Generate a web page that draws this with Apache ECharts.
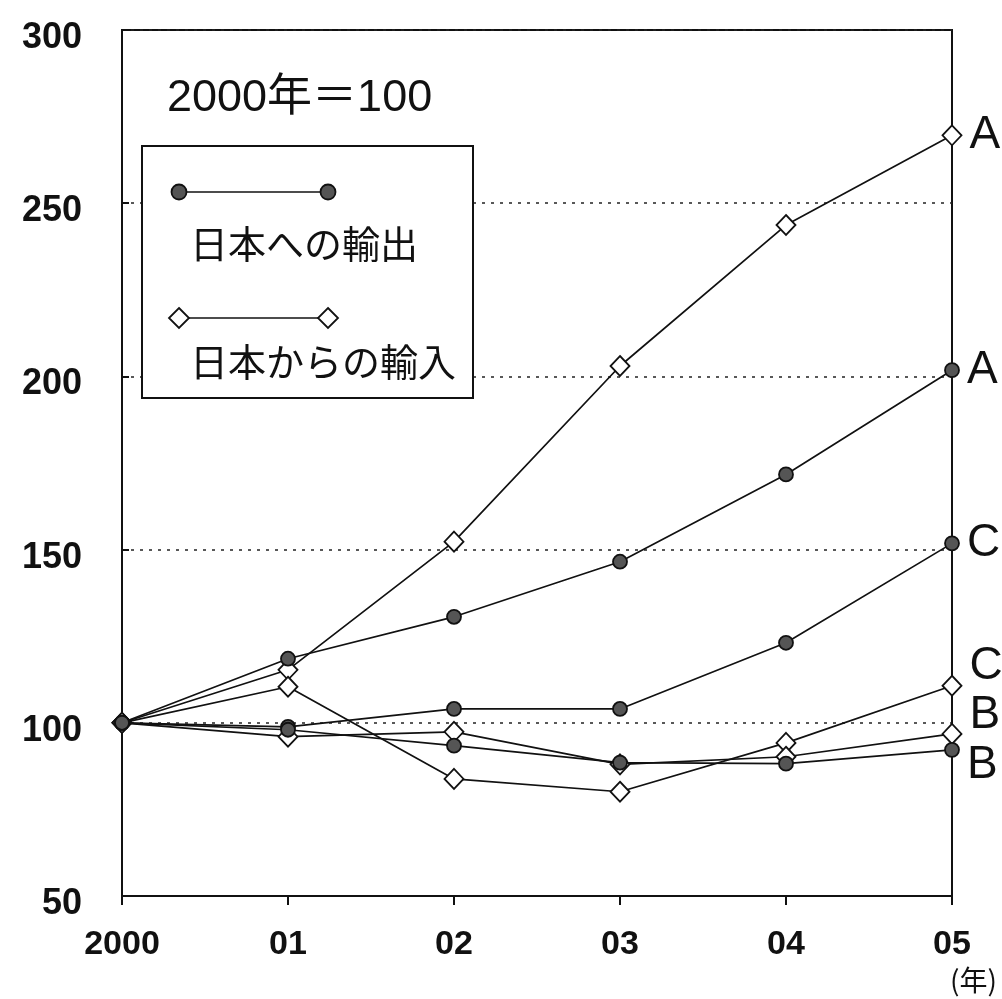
<!DOCTYPE html>
<html>
<head>
<meta charset="utf-8">
<script src="https://cdn.jsdelivr.net/npm/echarts@6/dist/echarts.min.js"></script>
<style>
html,body{margin:0;padding:0;background:#fff;}
#chart{width:1002px;height:999px;}
</style>
</head>
<body>
<div id="chart"></div>
<script>
// ---- data ----
const years = ['2000', '01', '02', '03', '04', '05'];
const yTicks = [50, 100, 150, 200, 250, 300];
const legendTitle = '2000年＝100';
const legendExport = '日本への輸出';
const legendImport = '日本からの輸入';
const yearUnit = '(年)';

const exportA = [100, 118.5, 130.6, 146.5, 171.7, 201.8];
const importA = [100, 115.3, 152.3, 203.0, 243.7, 269.6];
const exportC = [100, 98.8, 104.0, 104.0, 123.1, 151.8];
const importC = [100, 110.4, 83.8, 80.1, 94.2, 110.7];
const exportB = [100, 98.0, 93.4, 88.5, 88.2, 92.2];
const importB = [100, 96.0, 97.4, 88.0, 90.2, 96.8];

const seriesDefs = [
  { name: 'A', kind: 'import', values: importA, labelDy: 0 },
  { name: 'A', kind: 'export', values: exportA, labelDy: 0 },
  { name: 'C', kind: 'export', values: exportC, labelDy: 0 },
  { name: 'C', kind: 'import', values: importC, labelDy: -19 },
  { name: 'B', kind: 'import', values: importB, labelDy: -19 },
  { name: 'B', kind: 'export', values: exportB, labelDy: 15 }
];

const chart = echarts.init(document.getElementById('chart'), null, { renderer: 'canvas' });

function buildSeries(def) {
  const last = def.values.length - 1;
  const isExport = def.kind === 'export';
  return {
    type: 'line',
    name: def.kind,
    z: isExport ? 4 : 3,
    symbol: isExport ? 'circle' : 'diamond',
    symbolSize: isExport ? 14 : [19, 20],
    showAllSymbol: true,
    lineStyle: { color: '#111', width: 1.7 },
    itemStyle: {
      color: isExport ? '#555' : '#fff',
      borderColor: '#111',
      borderWidth: 1.8
    },
    emphasis: { disabled: true },
    data: def.values.map((v, i) => i === last ? {
      value: v,
      label: {
        show: true,
        formatter: def.name,
        position: 'right',
        distance: 7,
        offset: [0, def.labelDy],
        color: '#111',
        fontFamily: 'Liberation Sans, Arial, sans-serif',
        fontSize: 46
      }
    } : v)
  };
}

const option = {
  animation: false,
  backgroundColor: '#fff',
  grid: {
    left: 122, right: 50, top: 30, bottom: 103,
    show: true, borderColor: '#111', borderWidth: 2, backgroundColor: 'transparent'
  },
  xAxis: {
    type: 'category',
    data: years,
    boundaryGap: false,
    axisLine: { lineStyle: { color: '#111', width: 2 } },
    axisTick: { show: true, inside: false, length: 9, lineStyle: { color: '#111', width: 2 } },
    axisLabel: {
      color: '#111',
      fontFamily: 'Liberation Sans, Arial, sans-serif',
      fontWeight: 'bold',
      fontSize: 34,
      lineHeight: 34,
      margin: 32
    },
    splitLine: { show: false }
  },
  yAxis: {
    type: 'value',
    min: yTicks[0],
    max: yTicks[yTicks.length - 1],
    interval: 50,
    axisLine: { show: true, lineStyle: { color: '#111', width: 2 } },
    axisTick: { show: true, inside: true, length: 7, lineStyle: { color: '#111', width: 2 } },
    axisLabel: {
      color: '#111',
      fontFamily: 'Liberation Sans, Arial, sans-serif',
      fontWeight: 'bold',
      fontSize: 36,
      margin: 40,
      verticalAlign: 'top',
      lineHeight: 16
    },
    splitLine: { show: true, lineStyle: { color: '#222', width: 1.6, type: [3, 6] } }
  },
  series: seriesDefs.map(buildSeries),
  graphic: [
    {
      type: 'text', left: 167, top: 76, z: 20,
      style: {
        text: legendTitle,
        font: '45px "Liberation Sans", "Noto Sans CJK JP", sans-serif',
        fill: '#111'
      }
    },
    {
      type: 'rect', z: 20,
      shape: { x: 142, y: 146, width: 331, height: 252 },
      style: { fill: '#fff', stroke: '#111', lineWidth: 2 }
    },
    {
      type: 'line', z: 21,
      shape: { x1: 179, y1: 192, x2: 328, y2: 192 },
      style: { stroke: '#111', lineWidth: 1.7 }
    },
    {
      type: 'circle', z: 22, shape: { cx: 179, cy: 192, r: 7.5 },
      style: { fill: '#555', stroke: '#111', lineWidth: 1.8 }
    },
    {
      type: 'circle', z: 22, shape: { cx: 328, cy: 192, r: 7.5 },
      style: { fill: '#555', stroke: '#111', lineWidth: 1.8 }
    },
    {
      type: 'text', left: 190, top: 225, z: 21,
      style: {
        text: legendExport,
        font: '38px "Noto Sans CJK JP", sans-serif',
        fill: '#111'
      }
    },
    {
      type: 'line', z: 21,
      shape: { x1: 179, y1: 318, x2: 328, y2: 318 },
      style: { stroke: '#111', lineWidth: 1.7 }
    },
    {
      type: 'polygon', z: 22,
      shape: { points: [[179, 308], [189, 318], [179, 328], [169, 318]] },
      style: { fill: '#fff', stroke: '#111', lineWidth: 1.8 }
    },
    {
      type: 'polygon', z: 22,
      shape: { points: [[328, 308], [338, 318], [328, 328], [318, 318]] },
      style: { fill: '#fff', stroke: '#111', lineWidth: 1.8 }
    },
    {
      type: 'text', left: 190, top: 343, z: 21,
      style: {
        text: legendImport,
        font: '38px "Noto Sans CJK JP", sans-serif',
        fill: '#111'
      }
    },
    {
      type: 'text', left: 950, top: 966, z: 21,
      style: {
        text: yearUnit,
        font: '28px "Noto Sans CJK JP", sans-serif',
        fill: '#111'
      }
    }
  ]
};
chart.setOption(option);
</script>
</body>
</html>
